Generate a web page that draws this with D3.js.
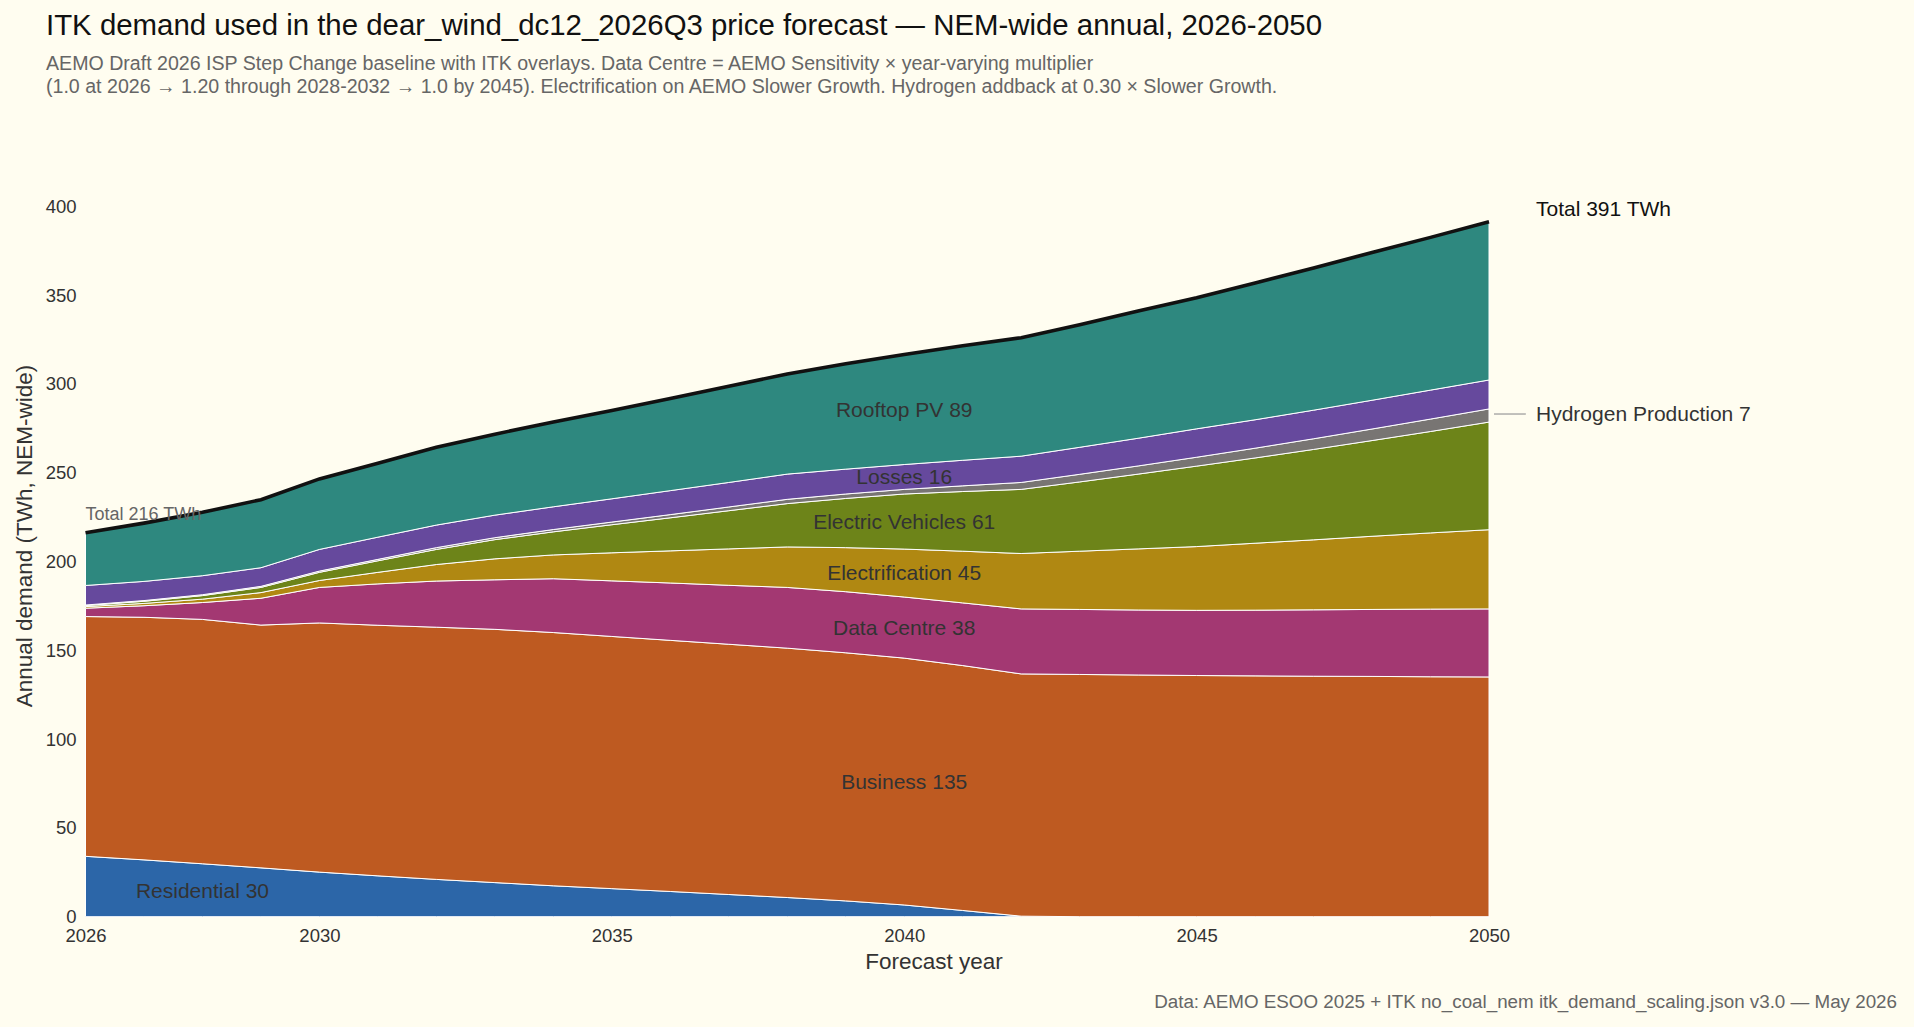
<!DOCTYPE html>
<html>
<head>
<meta charset="utf-8">
<script src="https://cdn.jsdelivr.net/npm/d3@7"></script>
<style>
  html, body { margin: 0; padding: 0; background: #fffdf0; }
  svg { display: block; font-family: "Liberation Sans", Arial, Helvetica, sans-serif; }
</style>
</head>
<body>
<div id="chart"></div>
<script>
// data (TWh, NEM-wide)
var years = [2026, 2027, 2028, 2029, 2030, 2031, 2032, 2033, 2034, 2035, 2036, 2037, 2038,
             2039, 2040, 2041, 2042, 2043, 2044, 2045, 2046, 2047, 2048, 2049, 2050];

var residential      = [34.0, 32.0, 29.8, 27.5, 25.1, 23.0, 21.0, 19.2, 17.4, 15.8, 14.2, 12.5, 10.8, 8.9, 6.6, 3.5, 0.3, 0, 0, 0, 0, 0, 0, 0, 0];
var business         = [135.0, 136.6, 137.6, 136.7, 140.3, 141.1, 142.0, 142.6, 142.6, 142.0, 141.4, 140.9, 140.4, 139.7, 139.0, 137.9, 136.4, 136.4, 136.1, 135.8, 135.6, 135.4, 135.3, 135.1, 135.0];
var dataCentre       = [4.7, 6.5, 9.5, 15.1, 20.0, 23.3, 26.0, 27.9, 30.3, 31.3, 32.3, 33.2, 34.2, 34.4, 34.4, 35.3, 36.6, 36.6, 36.6, 36.7, 37.0, 37.4, 37.7, 38.1, 38.3];
var electrification  = [0.9, 1.3, 1.9, 3.2, 3.9, 6.5, 9.3, 11.8, 13.4, 15.8, 18.1, 20.5, 22.8, 24.8, 27.0, 29.1, 31.2, 32.8, 34.4, 35.9, 37.7, 39.4, 41.2, 42.9, 44.6];
var electricVehicles = [0.6, 1.2, 2.0, 2.9, 4.6, 6.5, 8.5, 10.8, 13.0, 15.8, 18.6, 21.5, 24.4, 27.7, 31.0, 33.6, 36.1, 39.0, 42.1, 45.3, 48.0, 50.9, 53.9, 57.1, 60.6];
var hydrogen         = [0.3, 0.4, 0.5, 0.6, 0.7, 0.8, 1.0, 1.1, 1.3, 1.5, 1.8, 2.1, 2.4, 2.5, 2.6, 3.2, 3.9, 4.3, 4.6, 5.0, 5.5, 6.0, 6.5, 7.0, 7.4];
var losses           = [11.0, 10.8, 10.7, 10.5, 12.2, 12.5, 12.7, 12.7, 12.8, 13.1, 13.5, 13.8, 14.2, 14.0, 14.0, 14.4, 14.8, 15.2, 15.6, 16.0, 16.0, 16.1, 16.2, 16.3, 16.3];
var rooftopPV        = [29.7, 32.8, 35.7, 38.3, 39.7, 41.6, 43.8, 45.6, 47.7, 49.7, 51.9, 54.2, 56.4, 59.3, 62.0, 64.5, 66.7, 69.0, 71.6, 73.8, 77.0, 80.1, 83.2, 86.0, 89.1];

var seriesNames = ["Residential", "Business", "Data Centre", "Electrification", "Electric Vehicles",
                   "Hydrogen Production", "Losses", "Rooftop PV"];
var seriesValues = [residential, business, dataCentre, electrification, electricVehicles,
                    hydrogen, losses, rooftopPV];
var seriesColors = ["#2c66a8", "#be5a21", "#a33872", "#b08812", "#6d8419", "#787573", "#66499d", "#2e887f"];
// year at which each band gets its name written (null = labelled outside on the right)
var labelYears = [2028, 2040, 2040, 2040, 2040, null, 2040, 2040];

var xTicks = [2026, 2030, 2035, 2040, 2045, 2050];
var yTicks = [0, 50, 100, 150, 200, 250, 300, 350, 400];

var titleText = "ITK demand used in the dear_wind_dc12_2026Q3 price forecast \u2014 NEM-wide annual, 2026-2050";
var subtitleLines = [
    "AEMO Draft 2026 ISP Step Change baseline with ITK overlays. Data Centre = AEMO Sensitivity \u00d7 year-varying multiplier",
    "(1.0 at 2026 \u2192 1.20 through 2028-2032 \u2192 1.0 by 2045). Electrification on AEMO Slower Growth. Hydrogen addback at 0.30 \u00d7 Slower Growth."
];
var footText = "Data: AEMO ESOO 2025 + ITK no_coal_nem itk_demand_scaling.json v3.0 \u2014 May 2026";

var W = 1914, H = 1027;
var plot = {left: 85.5, right: 1489, top: 206.3, bottom: 916.7};

var svg = d3.select("#chart")
    .append("svg")
    .attr("width", W)
    .attr("height", H);

svg.append("rect")
    .attr("width", W)
    .attr("height", H)
    .attr("fill", "#fffdf0");

// table of rows for d3.stack
var rows = years.map(function (yr, i) {
    var r = {year: yr};
    seriesNames.forEach(function (name, k) { r[name] = seriesValues[k][i]; });
    return r;
});

var stacked = d3.stack().keys(seriesNames)(rows);

var x = d3.scaleLinear()
    .domain([2026, 2050])
    .range([plot.left, plot.right]);

var y = d3.scaleLinear()
    .domain([0, 400])
    .range([plot.bottom, plot.top]);

var area = d3.area()
    .x(function (d) { return x(d.data.year); })
    .y0(function (d) { return y(d[0]); })
    .y1(function (d) { return y(d[1]); });

svg.append("g")
    .selectAll("path")
    .data(stacked)
    .enter().append("path")
    .attr("d", area)
    .attr("fill", function (d, i) { return seriesColors[i]; })
    .attr("stroke", "#ffffff")
    .attr("stroke-width", 1)
    .attr("stroke-linejoin", "round");

// total line on top
var topSeries = stacked[stacked.length - 1];
var totalLine = d3.line()
    .x(function (d) { return x(d.data.year); })
    .y(function (d) { return y(d[1]); });

svg.append("path")
    .datum(topSeries)
    .attr("d", totalLine)
    .attr("fill", "none")
    .attr("stroke", "#111111")
    .attr("stroke-width", 3.6)
    .attr("stroke-linecap", "butt");

// axes (no domain line, no tick marks)
var xAxis = svg.append("g")
    .attr("transform", "translate(0," + plot.bottom + ")")
    .call(d3.axisBottom(x).tickValues(xTicks).tickFormat(d3.format("d")).tickSize(0).tickPadding(12));

var yAxis = svg.append("g")
    .attr("transform", "translate(" + plot.left + ",0)")
    .call(d3.axisLeft(y).tickValues(yTicks).tickSize(0).tickPadding(9));

[xAxis, yAxis].forEach(function (g) {
    g.select(".domain").remove();
    g.selectAll("text")
        .style("font-family", "'Liberation Sans', Arial, sans-serif")
        .style("font-size", "18.5px")
        .attr("fill", "#333333");
});

// band labels
var lastIdx = years.length - 1;
stacked.forEach(function (s, k) {
    var ly = labelYears[k];
    if (ly === null) return;
    var idx = years.indexOf(ly);
    var pt = s[idx];
    var v = seriesValues[k][lastIdx] > 0.5 ? seriesValues[k][lastIdx] : seriesValues[k][idx];
    svg.append("text")
        .attr("x", x(ly))
        .attr("y", y((pt[0] + pt[1]) / 2))
        .attr("dy", "0.35em")
        .attr("text-anchor", "middle")
        .style("font-size", "21px")
        .attr("fill", "#333333")
        .text(seriesNames[k] + " " + Math.round(v));
});

// hydrogen label with leader line
var hIdx = seriesNames.indexOf("Hydrogen Production");
var hEnd = stacked[hIdx][lastIdx];
var hMid = y((hEnd[0] + hEnd[1]) / 2) - 1.5;
svg.append("line")
    .attr("x1", x(2050) + 5)
    .attr("x2", x(2050) + 37)
    .attr("y1", hMid)
    .attr("y2", hMid)
    .attr("stroke", "#999999")
    .attr("stroke-width", 1.2);
svg.append("text")
    .attr("x", x(2050) + 47)
    .attr("y", hMid)
    .attr("dy", "0.35em")
    .style("font-size", "21px")
    .attr("fill", "#333333")
    .text("Hydrogen Production " + Math.round(hydrogen[lastIdx]));

// total labels
var total0 = topSeries[0][1], total1 = topSeries[lastIdx][1];
svg.append("text")
    .attr("x", x(2026))
    .attr("y", y(total0) - 19)
    .attr("dy", "0.35em")
    .style("font-size", "18px")
    .attr("fill", "#666666")
    .text("Total " + Math.round(total0) + " TWh");

svg.append("text")
    .attr("x", x(2050) + 47)
    .attr("y", y(total1) - 13)
    .attr("dy", "0.35em")
    .style("font-size", "21px")
    .attr("fill", "#111111")
    .text("Total " + Math.round(total1) + " TWh");

// axis titles
svg.append("text")
    .attr("x", 934)
    .attr("y", 969)
    .attr("text-anchor", "middle")
    .style("font-size", "22.5px")
    .attr("fill", "#333333")
    .text("Forecast year");

svg.append("text")
    .attr("transform", "translate(32,536) rotate(-90)")
    .attr("text-anchor", "middle")
    .style("font-size", "22.5px")
    .attr("fill", "#333333")
    .text("Annual demand (TWh, NEM-wide)");

// title, subtitle, source
svg.append("text")
    .attr("x", 46)
    .attr("y", 35)
    .style("font-size", "29.4px")
    .attr("fill", "#111111")
    .text(titleText);

svg.selectAll(".sub")
    .data(subtitleLines)
    .enter().append("text")
    .attr("class", "sub")
    .attr("x", 46)
    .attr("y", function (d, i) { return 70 + i * 23; })
    .style("font-size", "19.6px")
    .attr("fill", "#666666")
    .text(function (d) { return d; });

svg.append("text")
    .attr("x", 1897)
    .attr("y", 1008)
    .attr("text-anchor", "end")
    .style("font-size", "18.8px")
    .attr("fill", "#666666")
    .text(footText);
</script>
</body>
</html>
